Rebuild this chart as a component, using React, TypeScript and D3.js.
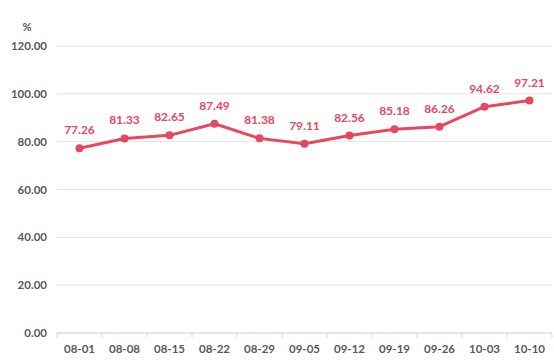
import React from "react";
import * as d3 from "d3";

const categories = ["08-01","08-08","08-15","08-22","08-29","09-05","09-12","09-19","09-26","10-03","10-10"];
const values = [77.26,81.33,82.65,87.49,81.38,79.11,82.56,85.18,86.26,94.62,97.21];
const yTicks = [0,20,40,60,80,100,120];
const unitLabel = "%";

const W = 554, H = 364;
const M = { left: 57, right: 2, top: 46, bottom: 31 };
const COLOR = "#E5495F";
const FONT = "Lato, 'Open Sans', sans-serif";

export default function App() {
  const x = d3.scaleBand<string>().domain(categories).range([M.left, W - M.right]);
  const y = d3.scaleLinear().domain([0, 120]).range([H - M.bottom, M.top]);
  const line = d3.line<number>()
    .x((_, i) => (x(categories[i]) as number) + x.bandwidth() / 2)
    .y((d) => y(d));
  const y0 = y(0);
  return (
    <svg width={W} height={H} style={{ position: "absolute", left: 0, top: 0 }}>
      <rect width={W} height={H} fill="#fff" />
      <text x={27} y={31} textAnchor="middle" fontFamily={FONT} fontWeight={700} fontSize={11} fill="#595959">{unitLabel}</text>
      {yTicks.map((t) => (
        <g key={t}>
          <line x1={M.left} x2={W - M.right} y1={y(t)} y2={y(t)} stroke="#e3e3e3" strokeWidth={1} />
          <text x={47} y={y(t) + 4} textAnchor="end" fontFamily={FONT} fontWeight={700} fontSize={11.5} fill="#595959">{t.toFixed(2)}</text>
        </g>
      ))}
      <line x1={M.left} x2={W - M.right} y1={y0} y2={y0} stroke="#d9d9d9" strokeWidth={1} />
      {categories.map((c, i) => (
        <g key={c}>
          <line x1={x(c) as number} x2={x(c) as number} y1={y0} y2={y0 + 5} stroke="#d9d9d9" />
          <text x={(x(c) as number) + x.bandwidth() / 2} y={y0 + 20} textAnchor="middle" fontFamily={FONT} fontWeight={700} fontSize={11.5} fill="#595959">{c}</text>
        </g>
      ))}
      <line x1={W - M.right} x2={W - M.right} y1={y0} y2={y0 + 5} stroke="#d9d9d9" />
      <path d={line(values) || ""} fill="none" stroke={COLOR} strokeWidth={3} strokeLinejoin="round" />
      {values.map((v, i) => {
        const cx = (x(categories[i]) as number) + x.bandwidth() / 2;
        return (
          <g key={i}>
            <circle cx={cx} cy={y(v)} r={4} fill={COLOR} />
            <text x={cx} y={y(v) - 14} textAnchor="middle" fontFamily={FONT} fontWeight={700} fontSize={12} fill={COLOR}>{v.toFixed(2)}</text>
          </g>
        );
      })}
    </svg>
  );
}
